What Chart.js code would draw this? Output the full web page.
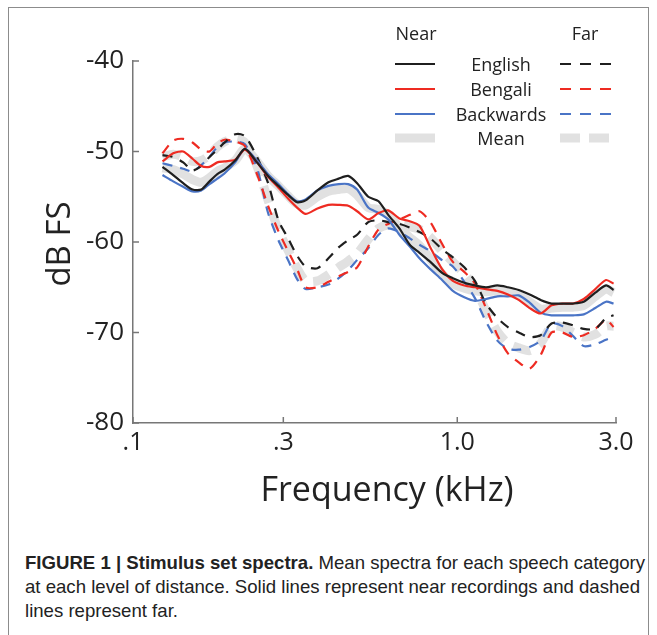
<!DOCTYPE html>
<html>
<head>
<meta charset="utf-8">
<script src="https://cdn.jsdelivr.net/npm/chart.js@4.4.1/dist/chart.umd.min.js"></script>
<style>
  body { margin: 0; background: #fff; width: 657px; height: 635px; overflow: hidden; position: relative; }
  #frame { position: absolute; left: 8px; top: 7px; width: 639px; height: 650px; border: 1.5px solid #8c8c8c; }
  #chart { position: absolute; left: 0; top: 0; }
  #caption { position: absolute; left: 25px; top: 551px; color: #222; white-space: nowrap;
    font-family: "Liberation Sans Narrow", "Arial Narrow", "Liberation Sans", sans-serif; font-size: 18.6px; line-height: 24px; }
  #caption b { font-weight: bold; }
</style>
</head>
<body>
<div id="frame"></div>
<canvas id="chart" width="657" height="525"></canvas>
<div id="caption">
  <div><b>FIGURE 1 | Stimulus set spectra.</b> Mean spectra for each speech category</div>
  <div>at each level of distance. Solid lines represent near recordings and dashed</div>
  <div>lines represent far.</div>
</div>
<script>
// frequency in kHz
const freq = [0.13, 0.14, 0.15, 0.16, 0.17, 0.18, 0.19, 0.20, 0.215, 0.23,
  0.25, 0.27, 0.29, 0.31, 0.33, 0.35, 0.38, 0.41, 0.44, 0.47,
  0.50, 0.54, 0.58, 0.62, 0.67, 0.72, 0.77, 0.83, 0.90, 0.97,
  1.05, 1.13, 1.22, 1.32, 1.42, 1.53, 1.65, 1.78, 1.92, 2.07,
  2.23, 2.40, 2.60, 2.80, 2.95];

// near recordings (dB FS)
const englishNear = [-51.7, -52.6, -53.5, -54.2, -54.2, -53.3, -52.5, -52.0, -51.0, -49.7,
  -51.2, -52.7, -53.8, -54.8, -55.6, -55.4, -54.3, -53.4, -53.0, -52.7,
  -53.5, -55.0, -55.5, -57.0, -58.5, -60.3, -61.2, -62.2, -63.4, -64.0,
  -64.5, -64.8, -65.0, -64.8, -65.0, -65.3, -65.8, -66.4, -66.8, -66.8,
  -66.8, -66.6, -65.6, -64.8, -65.3];
const bengaliNear = [-51.1, -50.2, -50.0, -50.8, -51.6, -51.7, -51.2, -51.1, -50.9, -49.8,
  -51.2, -52.8, -54.0, -55.2, -56.2, -56.9, -56.3, -55.9, -55.9, -56.0,
  -56.6, -57.5, -56.8, -56.5, -57.4, -57.7, -58.2, -60.6, -63.0, -64.3,
  -64.8, -65.0, -65.2, -65.4, -65.8, -66.4, -67.3, -67.9, -67.0, -66.8,
  -66.8, -66.3, -65.2, -64.2, -64.6];
const backwardsNear = [-52.6, -53.3, -53.9, -54.4, -54.3, -53.6, -53.0, -52.4, -51.2, -49.7,
  -51.0, -52.5, -53.6, -54.7, -55.5, -55.3, -54.3, -53.8, -53.6, -53.6,
  -54.2, -56.2, -56.8, -57.5, -59.2, -60.5, -61.8, -63.0, -64.2, -65.4,
  -66.1, -66.5, -66.3, -66.0, -66.0, -65.9, -66.7, -67.8, -68.1, -68.1,
  -68.1, -68.0, -67.3, -66.6, -66.8];
const meanNear = [-51.8, -52.0, -52.5, -53.1, -53.4, -52.9, -52.2, -51.8, -51.0, -49.7,
  -51.1, -52.7, -53.8, -54.9, -55.8, -55.9, -55.0, -54.4, -54.2, -54.1,
  -54.8, -56.2, -56.4, -57.0, -58.4, -59.5, -60.4, -61.9, -63.5, -64.6,
  -65.1, -65.4, -65.5, -65.4, -65.6, -65.9, -66.6, -67.4, -67.3, -67.2,
  -67.2, -67.0, -66.0, -65.2, -65.6];

// far recordings (dB FS)
const englishFar = [-50.4, -50.6, -51.2, -52.1, -51.6, -50.6, -49.8, -49.0, -48.1, -48.3,
  -50.6, -53.5, -57.6, -59.6, -61.5, -62.7, -62.9, -61.8, -60.6, -59.8,
  -59.2, -57.8, -57.6, -57.8, -58.0, -58.4, -58.9, -59.6, -60.8, -61.7,
  -62.8, -64.3, -66.8, -68.4, -69.4, -70.0, -70.5, -70.3, -69.0, -68.9,
  -69.2, -69.6, -69.6, -68.4, -68.1];
const bengaliFar = [-50.2, -48.8, -48.6, -49.0, -49.8, -50.0, -49.1, -48.7, -48.9, -49.4,
  -52.5, -56.0, -58.8, -61.0, -63.0, -65.0, -65.0, -64.4, -63.8, -63.3,
  -62.8, -60.5, -58.6, -58.0, -57.5, -57.0, -56.6, -57.8, -60.2, -62.2,
  -63.3, -64.6, -67.3, -70.3, -72.3, -73.3, -74.0, -72.5, -70.0, -70.0,
  -70.5, -70.3, -69.6, -68.6, -69.4];
const backwardsFar = [-51.3, -51.6, -51.9, -52.2, -51.5, -50.6, -49.5, -49.0, -48.9, -49.2,
  -51.8, -56.8, -59.8, -62.0, -64.1, -65.2, -65.0, -64.7, -64.0, -63.1,
  -62.0, -60.7, -59.2, -58.5, -58.9, -59.6, -60.3, -61.0, -62.0, -62.7,
  -64.4, -66.2, -68.8, -70.9, -71.8, -71.9, -71.6, -70.9, -69.0, -69.3,
  -70.4, -71.5, -71.3, -70.8, -70.5];
const meanFar = [-50.6, -50.3, -50.6, -51.1, -51.0, -50.4, -49.5, -48.9, -48.6, -49.0,
  -51.6, -55.4, -58.7, -60.9, -62.9, -64.3, -64.3, -63.6, -62.8, -62.1,
  -61.3, -59.7, -58.5, -58.1, -58.1, -58.3, -58.6, -59.5, -61.0, -62.2,
  -63.5, -65.0, -67.6, -69.9, -71.2, -71.7, -72.0, -71.2, -69.3, -69.4,
  -70.0, -70.5, -70.2, -69.3, -69.3];

const categories = ['English', 'Bengali', 'Backwards', 'Mean'];
const xTicks = [0.106, 0.3, 1.0, 3.0];
const xTickLabels = ['.1', '.3', '1.0', '3.0'];
const yTicks = [-80, -70, -60, -50, -40];

const BLACK = '#1f1f1f', RED = '#ee2b22', BLUE = '#4a74c6', GRAY = '#e1e1e1';
const FONT = '"Open Sans", "DejaVu Sans", sans-serif';

const pts = vals => vals.map((v, i) => ({ x: freq[i], y: v }));

function line(label, vals, color, width, dash, order) {
  return {
    label: label, data: pts(vals), borderColor: color, borderWidth: width,
    borderDash: dash, pointRadius: 0, tension: 0.25, fill: false, order: order,
    borderCapStyle: 'butt', borderJoinStyle: 'round'
  };
}

const datasets = [
  line('English near', englishNear, BLACK, 2.2, [], 0),
  line('Bengali near', bengaliNear, RED, 2.2, [], 0),
  line('Backwards near', backwardsNear, BLUE, 2.2, [], 0),
  line('Mean near', meanNear, GRAY, 9, [], 1),
  line('English far', englishFar, BLACK, 2.2, [10, 8], 0),
  line('Bengali far', bengaliFar, RED, 2.2, [10, 8], 0),
  line('Backwards far', backwardsFar, BLUE, 2.2, [10, 8], 0),
  line('Mean far', meanFar, GRAY, 9, [18, 10], 1)
];

// inward ticks, axis titles and the near/far legend
const decorations = {
  id: 'decorations',
  afterDraw(chart) {
    const ctx = chart.ctx, a = chart.chartArea;
    const xs = chart.scales.x, ys = chart.scales.y;
    ctx.save();
    ctx.strokeStyle = '#777';
    ctx.lineWidth = 1.5;
    xTicks.forEach(v => {
      const px = xs.getPixelForValue(v);
      ctx.beginPath(); ctx.moveTo(px, a.bottom); ctx.lineTo(px, a.bottom - 6); ctx.stroke();
    });
    yTicks.forEach(v => {
      const py = ys.getPixelForValue(v);
      ctx.beginPath(); ctx.moveTo(a.left, py); ctx.lineTo(a.left + 6, py); ctx.stroke();
    });

    ctx.fillStyle = '#222';
    ctx.font = '34px ' + FONT;
    ctx.textAlign = 'center';
    ctx.textBaseline = 'alphabetic';
    ctx.fillText('Frequency (kHz)', 387, 501);
    ctx.save();
    ctx.translate(70, 244);
    ctx.rotate(-Math.PI / 2);
    ctx.font = '33px ' + FONT;
    ctx.fillText('dB FS', 0, 0);
    ctx.restore();

    // legend
    ctx.font = '18px ' + FONT;
    ctx.textBaseline = 'middle';
    ctx.fillText('Near', 416, 35);
    ctx.fillText('Far', 585, 35);
    const rowY = [65, 90, 115, 139];
    categories.forEach((name, i) => {
      const near = chart.data.datasets[i], far = chart.data.datasets[i + 4];
      const y = rowY[i];
      ctx.fillStyle = '#222';
      ctx.fillText(name, 501, y + 1);
      ctx.lineWidth = near.borderWidth;
      ctx.strokeStyle = near.borderColor;
      ctx.setLineDash([]);
      ctx.beginPath(); ctx.moveTo(395, y - 1); ctx.lineTo(435, y - 1); ctx.stroke();
      ctx.lineWidth = far.borderWidth;
      ctx.strokeStyle = far.borderColor;
      ctx.setLineDash(i === 3 ? [20, 9] : [11, 9]);
      ctx.beginPath(); ctx.moveTo(560, y - 1); ctx.lineTo(612, y - 1); ctx.stroke();
    });
    ctx.restore();
  }
};

new Chart(document.getElementById('chart'), {
  type: 'line',
  data: { datasets: datasets },
  options: {
    responsive: false,
    animation: false,
    devicePixelRatio: 1,
    layout: { padding: { left: 0, top: 61, right: 41, bottom: 0 } },
    plugins: { legend: { display: false }, tooltip: { enabled: false } },
    scales: {
      x: {
        type: 'logarithmic',
        min: xTicks[0],
        max: 3.0,
        afterBuildTicks: s => { s.ticks = xTicks.map(v => ({ value: v })); },
        afterFit: s => { s.height = 102; },
        grid: { display: false, drawTicks: false },
        border: { display: true, color: '#777', width: 1.5 },
        ticks: {
          autoSkip: false, maxRotation: 0, padding: 5, color: '#222',
          font: { family: FONT, size: 25 },
          callback: (v, i) => xTickLabels[i]
        }
      },
      y: {
        min: -80,
        max: -40,
        afterBuildTicks: s => { s.ticks = yTicks.map(v => ({ value: v })); },
        afterFit: s => { s.width = 133; },
        grid: { display: false, drawTicks: false },
        border: { display: true, color: '#777', width: 1.5 },
        ticks: { padding: 9, color: '#222', font: { family: FONT, size: 26 } }
      }
    }
  },
  plugins: [decorations]
});
</script>
</body>
</html>
